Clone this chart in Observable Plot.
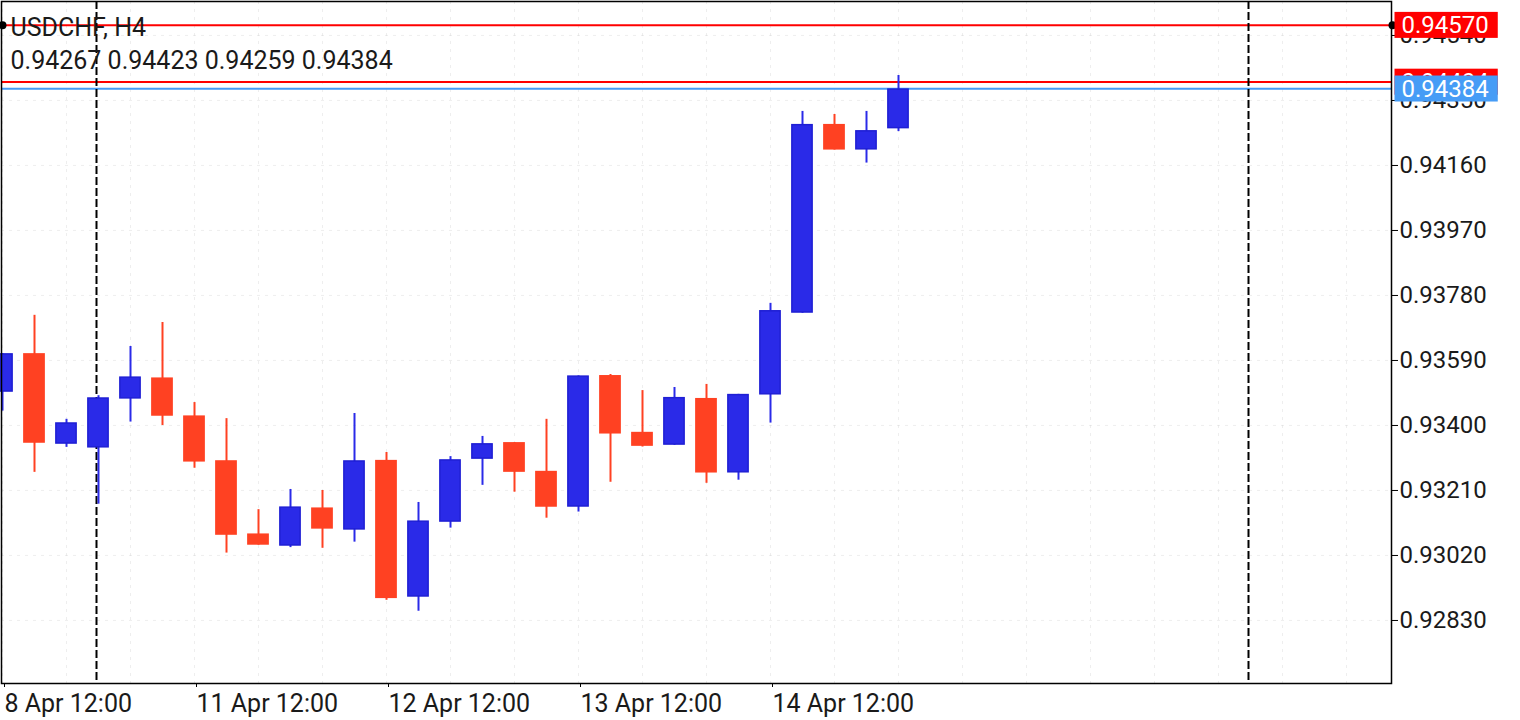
<!DOCTYPE html>
<html>
<head>
<meta charset="utf-8">
<script src="https://cdn.jsdelivr.net/npm/d3@7"></script>
<script src="https://cdn.jsdelivr.net/npm/@observablehq/plot@0.6"></script>
<style>
  html, body { margin: 0; padding: 0; background: #fff; }
  svg { display: block; }
</style>
</head>
<body>
<script>
// ---- data (USDCHF, H4) ----
const symbol = "USDCHF, H4";
const opens  = [0.93497,0.93610,0.93345,0.93334,0.93477,0.93539,0.93428,0.93297,0.93083,0.93047,
                0.93159,0.93094,0.93298,0.92898,0.93117,0.93301,0.93350,0.93266,0.93161,0.93546,
                0.93380,0.93342,0.93479,0.93261,0.93489,0.93728,0.94280,0.94205,0.94267];
const highs  = [0.93610,0.93722,0.93418,0.93487,0.93631,0.93701,0.93467,0.93420,0.93154,0.93213,
                0.93210,0.93435,0.93321,0.93175,0.93309,0.93368,0.93350,0.93418,0.93545,0.93549,
                0.93502,0.93511,0.93520,0.93491,0.93757,0.94318,0.94309,0.94318,0.94423];
const lows   = [0.93442,0.93263,0.93336,0.93170,0.93410,0.93400,0.93275,0.93027,0.93050,0.93043,
                0.93041,0.93059,0.92889,0.92857,0.93100,0.93225,0.93205,0.93129,0.93147,0.93234,
                0.93337,0.93342,0.93231,0.93240,0.93407,0.93728,0.94205,0.94167,0.94259];
const closes = [0.93610,0.93348,0.93408,0.93481,0.93542,0.93427,0.93293,0.93079,0.93050,0.93162,
                0.93097,0.93297,0.92894,0.93121,0.93300,0.93347,0.93263,0.93161,0.93545,0.93375,
                0.93339,0.93482,0.93261,0.93491,0.93736,0.94280,0.94205,0.94262,0.94384];

const xTickIdx    = [0, 6, 12, 18, 24];
const xTickLabels = ["8 Apr 12:00", "11 Apr 12:00", "12 Apr 12:00", "13 Apr 12:00", "14 Apr 12:00"];
const yTicks      = [0.92830, 0.93020, 0.93210, 0.93400, 0.93590, 0.93780, 0.93970, 0.94160, 0.94350, 0.94540];
const separatorIdx = [3, 39];
const priceLevels = [0.94404, 0.94384, 0.94570];   // ask, bid, alert level
const priceColors = ["#ff0000", "#469cf6", "#ff0000"];
const alertLevel  = 0.94570;

// ---- build table ----
const candles = opens.map((o, i) => ({
  i, open: o, high: highs[i], low: lows[i], close: closes[i], up: closes[i] >= o
}));
const last = candles[candles.length - 1];
const ohlcText = [last.open, last.high, last.low, last.close].map(v => v.toFixed(5)).join(" ");
const labelMap = new Map(xTickIdx.map((d, k) => [d, xTickLabels[k]]));
const gridXIdx = d3.range(0, 44, 2);

const BULL = "#2a2ae8", BULL_EDGE = "#1f1fd4", BEAR = "#ff4122";
const half = 0.34;

const chart = Plot.plot({
  width: 1520,
  height: 720,
  marginLeft: 1,
  marginRight: 129,
  marginTop: 1,
  marginBottom: 37,
  style: { fontFamily: "Roboto, sans-serif", fontSize: "24px", color: "#1a1a1a", background: "#fff" },
  x: { type: "linear", domain: [-0.03125, 43.40625] },
  y: { type: "linear", domain: [0.926458, 0.946393] },
  marks: [
    Plot.gridY(yTicks, { stroke: "#c8c8c8", strokeOpacity: 0.3, strokeDasharray: "3,5" }),
    Plot.gridX(gridXIdx, { stroke: "#c8c8c8", strokeOpacity: 0.3, strokeDasharray: "3,5" }),
    Plot.ruleY(priceLevels, { y: d => d, stroke: (d, k) => priceColors[k], strokeWidth: 2 }),
    Plot.ruleX(separatorIdx, { x: d => d, dx: -2, stroke: "#000", strokeWidth: 2, strokeDasharray: "8,3" }),
    Plot.ruleX(candles, { x: "i", y1: "low", y2: "high", stroke: d => d.up ? BULL : BEAR, strokeWidth: 2 }),
    Plot.rect(candles.filter(d => !d.up), {
      x1: d => d.i - half, x2: d => d.i + half, y1: "open", y2: "close", fill: BEAR
    }),
    Plot.rect(candles.filter(d => d.up), {
      x1: d => d.i - half, x2: d => d.i + half, y1: "open", y2: "close",
      fill: BULL, stroke: BULL_EDGE, strokeWidth: 1.5, inset: 0.75
    }),
    Plot.dot([alertLevel], { y: d => d, frameAnchor: "left", r: 4, fill: "#000", dx: 1 }),
    Plot.dot([alertLevel], { y: d => d, frameAnchor: "right", r: 4, fill: "#000", dx: 1 }),
    Plot.frame({ stroke: "#000", strokeWidth: 1.5 }),
    Plot.axisY(yTicks, {
      anchor: "right", tickSize: 6, tickPadding: 2, label: null,
      tickFormat: d => d.toFixed(5), fontSize: 24, fill: "#1a1a1a", stroke: "#000"
    }),
    Plot.axisX(xTickIdx, {
      anchor: "bottom", tickSize: 4, tickPadding: 7, label: null,
      tickFormat: d => labelMap.get(d), textAnchor: "start", dx: 2, fontSize: 25, fill: "#1a1a1a", stroke: "#000"
    }),
    Plot.text([symbol], { text: d => d, frameAnchor: "top-left", dx: 9, dy: 34, lineAnchor: "bottom",
      textAnchor: "start", fontSize: 25, fill: "#1a1a1a" }),
    Plot.text([ohlcText], { text: d => d, frameAnchor: "top-left", dx: 9, dy: 67, lineAnchor: "bottom",
      textAnchor: "start", fontSize: 25, fill: "#1a1a1a" }),
    Plot.text(priceLevels, { y: d => d, text: d => d.toFixed(5), frameAnchor: "right", dx: 10,
      textAnchor: "start", lineAnchor: "middle", fontSize: 24, fill: "#fff",
      ariaLabel: () => "price-label" })
  ]
});

document.body.append(chart);

// coloured boxes behind the right-hand price labels
const labelTexts = chart.querySelectorAll('text[aria-label="price-label"]');
labelTexts.forEach((t, k) => {
  const b = t.getBBox();
  const r = document.createElementNS("http://www.w3.org/2000/svg", "rect");
  const cy = b.y + b.height / 2;
  r.setAttribute("x", b.x - 7);
  r.setAttribute("y", cy - 13);
  r.setAttribute("width", b.width + 16);
  r.setAttribute("height", 26);
  r.setAttribute("fill", priceColors[k]);
  const tr = t.getAttribute("transform");
  if (tr) r.setAttribute("transform", tr);
  t.parentNode.insertBefore(r, t);
});
</script>
</body>
</html>
